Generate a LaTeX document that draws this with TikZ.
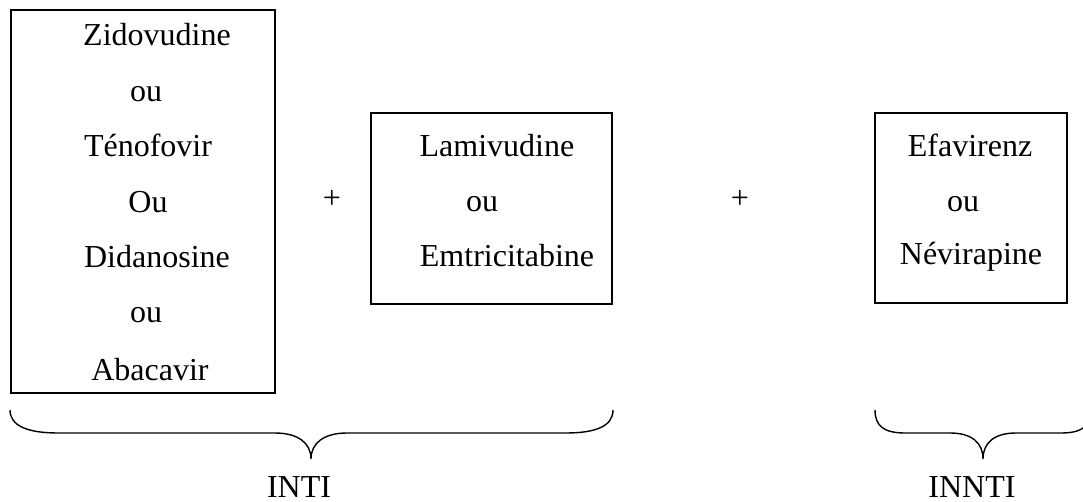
\documentclass[tikz,border=0pt]{standalone}
\usepackage{fontspec}
\setmainfont{Liberation Serif}
\begin{document}
\begin{tikzpicture}[x=1pt,y=-1pt,
  box/.style={draw=black,line width=1.3pt,inner sep=0pt,minimum width=#1},
  txt/.style={anchor=base,inner sep=0pt,font=\fontsize{32}{38}\selectfont},
  brace/.style={draw=black,line width=1.4pt}]
\useasboundingbox (0,0) rectangle (1083,502);
\clip (0,0) rectangle (1083,502);
% boxes
\node[box=264pt,minimum height=383pt] (b1) at (143,201.5) {};
\node[box=241pt,minimum height=191pt] (b2) at (491.5,208.5) {};
\node[box=192pt,minimum height=190pt] (b3) at (971,208) {};
% box 1 text
\node[txt] (z1) at (157,46) {Zidovudine};
\node[txt] (o1) at (146,102) {ou};
\node[txt] (t1) at (148,157) {Ténofovir};
\node[txt] (o2) at (148,213) {Ou};
\node[txt] (d1) at (157,268) {Didanosine};
\node[txt] (o3) at (146,323) {ou};
\node[txt] (a1) at (150,380) {Abacavir};
% box 2 text
\node[txt] (l2) at (497,157) {Lamivudine};
\node[txt] (o4) at (482,212) {ou};
\node[txt] (e2) at (507,267) {Emtricitabine};
% box 3 text
\node[txt] (e3) at (970,157) {Efavirenz};
\node[txt] (o5) at (963,212) {ou};
\node[txt] (n3) at (971,265) {Névirapine};
% plus signs
\node[txt] (p1) at (332,209) {+};
\node[txt] (p2) at (740,209) {+};
% braces
\draw[brace] (10,410) .. controls (10,426) and (28,433) .. (58,433)
  -- (275,433) .. controls (298,433) and (311,443) .. (311,459)
  .. controls (311,443) and (324,433) .. (347,433)
  -- (566,433) .. controls (596,433) and (613,426) .. (613,410);
\draw[brace] (875,410) .. controls (875,426) and (884,433) .. (905,433)
  -- (950,433) .. controls (972,433) and (983,443) .. (983,459)
  .. controls (983,443) and (994,433) .. (1016,433)
  -- (1061,433) .. controls (1082,433) and (1091,426) .. (1091,410);
% labels
\node[txt] (inti) at (299,497) {INTI};
\node[txt] (innti) at (972,497) {INNTI};
\end{tikzpicture}
\end{document}
